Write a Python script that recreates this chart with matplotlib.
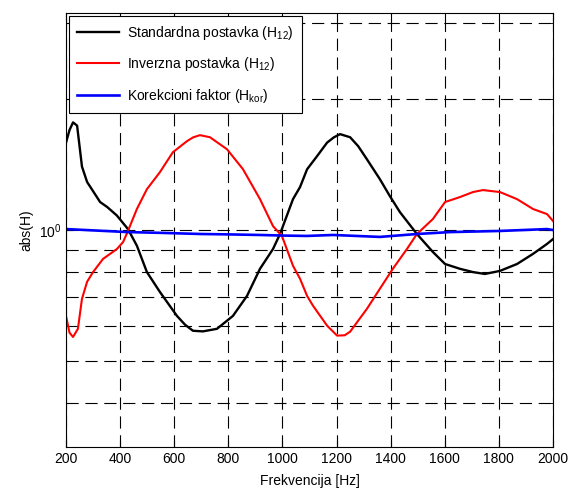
import matplotlib
matplotlib.use("Agg")
import matplotlib.pyplot as plt
from matplotlib.ticker import FixedLocator, NullFormatter

plt.rcParams['font.family'] = ['Liberation Sans', 'DejaVu Sans']
plt.rcParams['mathtext.default'] = 'regular'

# Standardna postavka (H12)
f_std = [200, 213, 226, 241, 259, 278, 296, 326, 352, 388, 429, 462, 499, 547,
         610, 640, 669, 706, 758, 817, 869, 917, 965, 991, 1039, 1065, 1091, 1128,
         1165, 1190, 1213, 1250, 1280, 1312, 1360, 1397, 1434, 1497, 1556, 1601, 1656,
         1704, 1748, 1804, 1867, 1926, 1978, 2000]
h_std = [1.59, 1.70, 1.77, 1.74, 1.40, 1.29, 1.24, 1.16, 1.13, 1.08, 1.005, 0.92,
         0.80, 0.72, 0.634, 0.605, 0.586, 0.584, 0.592, 0.634, 0.705, 0.814, 0.904,
         0.979, 1.178, 1.256, 1.38, 1.48, 1.59, 1.635, 1.663, 1.636, 1.56, 1.456,
         1.31, 1.197, 1.10, 0.979, 0.89, 0.835, 0.814, 0.80, 0.792, 0.805, 0.835,
         0.881, 0.929, 0.953]

# Inverzna postavka (H12)
f_inv = [200, 213, 226, 244, 259, 278, 300, 337, 388, 411, 429, 462, 499, 547,
         595, 647, 670, 695, 732, 795, 854, 917, 965, 998, 1039, 1065, 1091, 1113,
         1165, 1202, 1230, 1250, 1312, 1360, 1408, 1460, 1497, 1556, 1601, 1656,
         1704, 1741, 1804, 1867, 1926, 1978, 2000]
h_inv = [0.634, 0.58, 0.567, 0.592, 0.694, 0.760, 0.80, 0.858, 0.904, 0.938,
         0.995, 1.118, 1.242, 1.359, 1.511, 1.602, 1.635, 1.654, 1.636, 1.535, 1.381,
         1.178, 1.021, 0.969, 0.827, 0.772, 0.705, 0.669, 0.602, 0.571, 0.572, 0.583,
         0.658, 0.732, 0.814, 0.904, 0.979, 1.060, 1.160, 1.191, 1.223, 1.236,
         1.223, 1.178, 1.118, 1.088, 1.049]

# Korekcioni faktor (Hkor)
f_kor = [200, 300, 429, 550, 700, 800, 917, 1000, 1091, 1187, 1360, 1497,
         1619, 1804, 1978, 2000]
h_kor = [1.005, 0.998, 0.989, 0.985, 0.979, 0.977, 0.974, 0.971, 0.969, 0.974,
         0.964, 0.979, 0.989, 0.995, 1.005, 1.0]

x_ticks = [200, 400, 600, 800, 1000, 1200, 1400, 1600, 1800, 2000]
y_grid = [0.4, 0.5, 0.6, 0.7, 0.8, 0.9, 1.0, 2.0, 3.0]

fig = plt.figure(figsize=(5.7, 4.91), dpi=100)
ax = fig.add_axes([0.1158, 0.0896, 0.8544, 0.8839])

ax.plot(f_std, h_std, color='black', lw=1.7, label='Standardna postavka (H$_{12}$)')
ax.plot(f_inv, h_inv, color='red', lw=1.5, label='Inverzna postavka (H$_{12}$)')
ax.plot(f_kor, h_kor, color='blue', lw=1.9, label='Korekcioni faktor (H$_{kor}$)')

ax.set_yscale('log')
ax.set_xlim(200, 2000)
ax.set_ylim(10 ** -0.5, 10 ** 0.5)

ax.set_xticks(x_ticks)
ax.yaxis.set_major_locator(FixedLocator([1.0]))
ax.set_yticklabels(['10$^{0}$'])
ax.yaxis.set_minor_locator(FixedLocator([v for v in y_grid if v != 1.0]))
ax.yaxis.set_minor_formatter(NullFormatter())

ax.tick_params(which='both', direction='in', top=True, right=True, labelsize=10)
ax.tick_params(which='major', length=5)
ax.tick_params(which='minor', length=3)

ax.grid(True, which='both', axis='y', color='black', linestyle=(0, (11, 6)), lw=0.8)
ax.grid(True, which='major', axis='x', color='black', linestyle=(0, (11, 6)), lw=0.8)
ax.set_axisbelow(True)

ax.set_xlabel('Frekvencija [Hz]', fontsize=10, labelpad=6)
ax.set_ylabel('abs(H)', fontsize=10)

leg = ax.legend(loc='upper left', fontsize=10, handlelength=3.0, borderaxespad=0.2,
                labelspacing=0.95, borderpad=0.6, handletextpad=0.6,
                fancybox=False, framealpha=1, edgecolor='black')
leg.get_frame().set_linewidth(0.8)

plt.savefig('out.png', dpi=100)
